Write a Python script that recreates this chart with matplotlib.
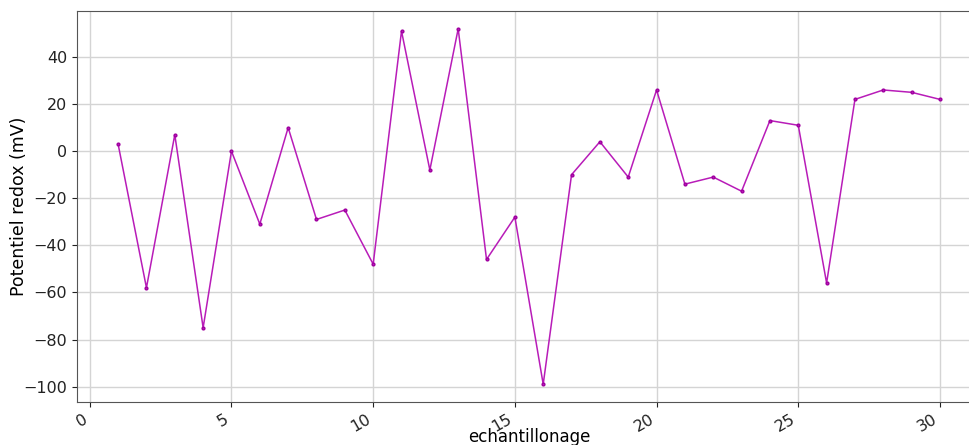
import matplotlib
matplotlib.use('Agg')
import matplotlib.pyplot as plt

# échantillons et potentiel redox
echantillons = list(range(1, 31))
potentiel_mv = [3, -58, 7, -75, 0, -31, 10, -29, -25, -48,
                51, -8, 52, -46, -28, -99, -10, 4, -11, 26,
                -14, -11, -17, 13, 11, -56, 22, 26, 25, 22]

fig = plt.figure(figsize=(9.7, 4.45), dpi=100)
# l'axe dépasse à droite : l'image d'origine est rognée
ax = fig.add_axes([0.0794, 0.0966, 0.932, 0.8787])

ax.plot(echantillons, potentiel_mv, color='#b81cb8', marker='.',
        markersize=4, markeredgecolor='#a000a0', linewidth=1.1)

ax.grid(True, color='#d4d4d4', linewidth=1)
ax.set_axisbelow(True)
ax.tick_params(labelsize=11.5, colors='#222222')
plt.setp(ax.get_xticklabels(), rotation=30, ha='right')
for s in ax.spines.values():
    s.set_color('#555555')

ax.set_ylabel('Potentiel redox (mV)', fontsize=12.5, labelpad=-3)
ax.set_xlabel('echantillonage', fontsize=12, labelpad=-5)

fig.savefig('out.png', dpi=100)
